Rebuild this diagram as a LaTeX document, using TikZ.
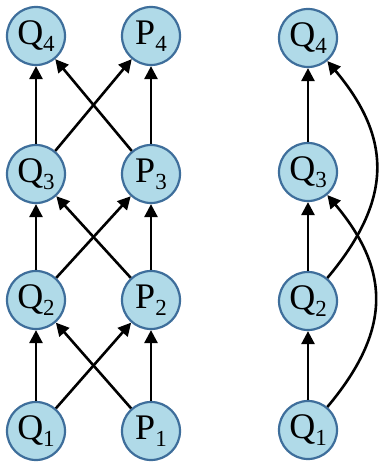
\documentclass[tikz,border=0pt]{standalone}
\usepackage{fontspec}
\setmainfont{Liberation Serif}
\usetikzlibrary{arrows.meta}
\definecolor{nodefill}{RGB}{176,218,232}
\definecolor{nodeline}{RGB}{62,110,155}
\newcommand{\lbl}[2]{{\fontsize{36}{36}\selectfont #1\raisebox{-7pt}{\fontsize{23}{23}\selectfont #2}}}
\begin{document}
\begin{tikzpicture}[x=1pt,y=-1pt,
  st/.style={circle,draw=nodeline,fill=nodefill,line width=2.2pt,minimum size=58pt,inner sep=0pt},
  arr/.style={-{Triangle[length=13pt,width=13pt]},line width=2.6pt,black}]
\useasboundingbox (0,0) rectangle (380,462);
% left graph
\node[st] (Q4) at (36,36) {\lbl{Q}{4}};
\node[st] (P4) at (151,36) {\lbl{P}{4}};
\node[st] (Q3) at (36,174) {\lbl{Q}{3}};
\node[st] (P3) at (151,174) {\lbl{P}{3}};
\node[st] (Q2) at (36,300) {\lbl{Q}{2}};
\node[st] (P2) at (151,300) {\lbl{P}{2}};
\node[st] (Q1) at (36,431) {\lbl{Q}{1}};
\node[st] (P1) at (151,431) {\lbl{P}{1}};
% right graph
\node[st] (R4) at (308,38) {\lbl{Q}{4}};
\node[st] (R3) at (308,172) {\lbl{Q}{3}};
\node[st] (R2) at (308,301) {\lbl{Q}{2}};
\node[st] (R1) at (308,430) {\lbl{Q}{1}};
% left arrows
\draw[arr] (Q1) -- (Q2);
\draw[arr] (P1) -- (P2);
\draw[arr] (Q1) -- (P2);
\draw[arr] (P1) -- (Q2);
\draw[arr] (Q2) -- (Q3);
\draw[arr] (P2) -- (P3);
\draw[arr] (Q2) -- (P3);
\draw[arr] (P2) -- (Q3);
\draw[arr] (Q3) -- (Q4);
\draw[arr] (P3) -- (P4);
\draw[arr] (Q3) -- (P4);
\draw[arr] (P3) -- (Q4);
% right arrows
\draw[arr] (R1) -- (R2);
\draw[arr] (R2) -- (R3);
\draw[arr] (R3) -- (R4);
\draw[arr] (R1) to[out=50,in=-50,looseness=1.2] (R3);
\draw[arr] (R2) to[out=50,in=-50,looseness=1.2] (R4);
\end{tikzpicture}
\end{document}
